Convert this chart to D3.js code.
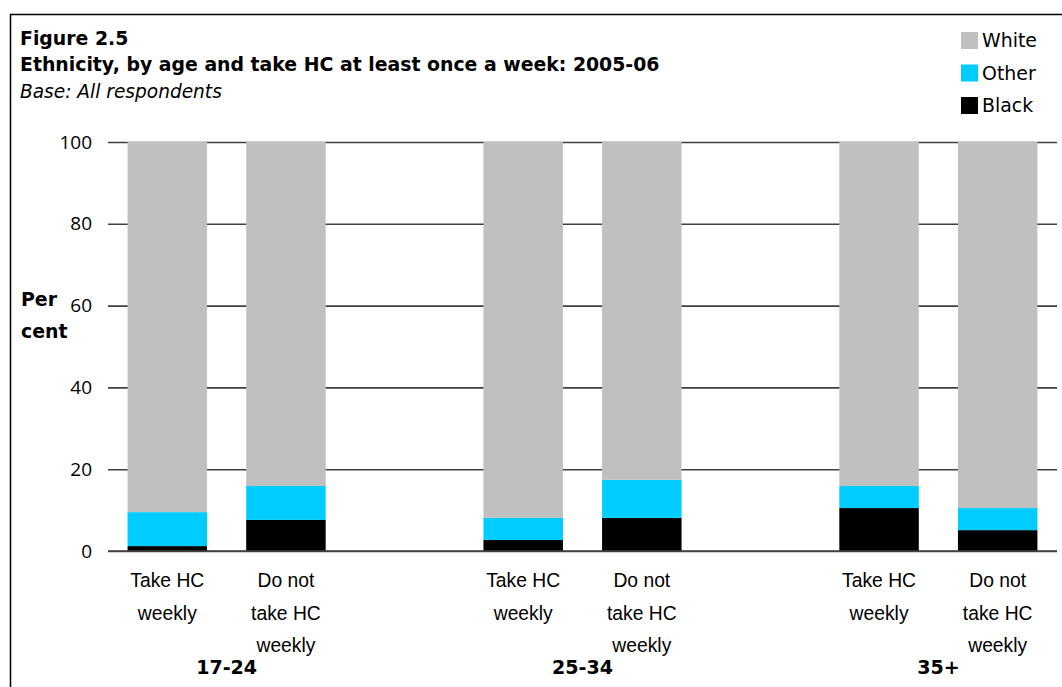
<!DOCTYPE html>
<html>
<head>
<meta charset="utf-8">
<script src="https://cdn.jsdelivr.net/npm/d3@7"></script>
<style>
  body { margin: 0; background: #fff; }
  text { font-family: "DejaVu Sans", Verdana, sans-serif; fill: #000; }
  .grid line { stroke: #404040; stroke-width: 1.6; }
  .grid text { font-family: "Open Sans", sans-serif; font-size: 19px; }
  .cat { font-family: "Liberation Sans", Arial, sans-serif; }
</style>
</head>
<body>
<div id="chart"></div>
<script>
// Data
const groups = ['17-24', '25-34', '35+'];
const types = ['Take HC weekly', 'Do not take HC weekly'];
const typeLines = [['Take HC', 'weekly'], ['Do not', 'take HC', 'weekly']];
const black = [1.2, 7.6, 2.7, 8.1, 10.5, 5.1];
const other = [8.3, 8.3, 5.4, 9.3, 5.4, 5.4];
const white = [90.5, 84.1, 91.9, 82.6, 84.1, 89.5];
const seriesNames = ['Black', 'Other', 'White'];
const seriesColors = ['#000000', '#00ccff', '#c0c0c0'];
const yTicks = [0, 20, 40, 60, 80, 100];

const rows = [];
groups.forEach((g, gi) => types.forEach((t, ti) => {
    const i = gi * 2 + ti;
    rows.push({group: g, type: t, ti: ti, Black: black[i], Other: other[i], White: white[i]});
}));

const W = 1062, H = 687;
const margin = {top: 142, right: 5, bottom: 136, left: 108};
const width = W - margin.left - margin.right;
const height = H - margin.top - margin.bottom;

// scale a text's font size so it spans the wanted width, return that size
function fitSize(sel, wanted) {
    const base = +sel.attr('font-size');
    const len = sel.node().getComputedTextLength();
    const size = base * wanted / len;
    sel.attr('font-size', size);
    return size;
}

const svg = d3.select('#chart').append('svg')
    .attr('width', W).attr('height', H);

// outer frame
svg.append('rect')
    .attr('x', 10.5).attr('y', 14.5)
    .attr('width', W + 20).attr('height', H + 20)
    .attr('fill', 'none').attr('stroke', '#000').attr('stroke-width', 1.5);

const g = svg.append('g').attr('transform', `translate(${margin.left},${margin.top})`);

// scales: each group = 2 bar slots, one empty slot between groups
const x0 = d3.scaleBand().domain(groups).range([0, width]).paddingInner(1 / 3).paddingOuter(0);
const x1 = d3.scaleBand().domain(types).range([0, x0.bandwidth()]).paddingInner(0.33).paddingOuter(0.165);
const y = d3.scaleLinear().domain([0, 100]).range([height, 0]);

// horizontal grid + y labels
const grid = g.append('g').attr('class', 'grid')
    .call(d3.axisLeft(y).tickValues(yTicks).tickSize(-width).tickPadding(16).tickFormat(d3.format('d')));
grid.select('.domain').remove();
grid.selectAll('text').attr('fill', '#000');

// stacked bars
const stack = d3.stack().keys(seriesNames)(rows);
g.selectAll('.series')
    .data(stack)
    .enter().append('g')
    .attr('class', 'series')
    .attr('fill', (d, i) => seriesColors[i])
  .selectAll('rect')
    .data(d => d)
    .enter().append('rect')
    .attr('x', d => x0(d.data.group) + x1(d.data.type))
    .attr('width', x1.bandwidth())
    .attr('y', d => y(d[1]))
    .attr('height', d => y(d[0]) - y(d[1]));

// baseline drawn above bars
g.append('line')
    .attr('x1', 0).attr('x2', width)
    .attr('y1', y(0)).attr('y2', y(0))
    .attr('stroke', '#404040').attr('stroke-width', 1.6);

// category labels
const probe = svg.append('text').attr('class', 'cat').attr('font-size', 18).text('Take HC');
const catSize = fitSize(probe, 74);
probe.remove();
rows.forEach(r => {
    const cx = x0(r.group) + x1(r.type) + x1.bandwidth() / 2;
    const t = g.append('text')
        .attr('class', 'cat')
        .attr('text-anchor', 'middle')
        .attr('font-size', catSize);
    typeLines[r.ti].forEach((line, li) => {
        t.append('tspan').attr('x', cx).attr('y', height + 36 + li * 32.5).text(line);
    });
});

// group labels
const gl = g.selectAll('.grouplabel')
    .data(groups)
    .enter().append('text')
    .attr('class', 'grouplabel')
    .attr('x', d => x0(d) + x0.bandwidth() / 2)
    .attr('y', height + 123)
    .attr('text-anchor', 'middle')
    .attr('font-size', 17)
    .attr('font-weight', 'bold')
    .text(d => d);
gl.attr('font-size', fitSize(gl.filter((d, i) => i === 0), 61));

// y axis title
const yt = svg.append('text').attr('font-size', 17).attr('font-weight', 'bold');
yt.append('tspan').attr('x', 21).attr('y', 306).text('Per');
fitSize(yt, 36);
yt.append('tspan').attr('x', 21).attr('y', 338).text('cent');

// titles
const t2 = svg.append('text').attr('x', 20).attr('y', 71)
    .attr('font-size', 17).attr('font-weight', 'bold')
    .text('Ethnicity, by age and take HC at least once a week: 2005-06');
const titleSize = fitSize(t2, 640);
svg.append('text').attr('x', 20).attr('y', 45)
    .attr('font-size', titleSize).attr('font-weight', 'bold').text('Figure 2.5');
const t3 = svg.append('text').attr('x', 20).attr('y', 98)
    .attr('font-size', 17).attr('font-style', 'italic').text('Base: All respondents');
fitSize(t3, 202);

// legend (White, Other, Black top to bottom)
const legendItems = seriesNames.slice().reverse();
const legend = svg.append('g').attr('transform', 'translate(961,32)');
let legendSize = 17;
legendItems.forEach((name, i) => {
    const li = legend.append('g').attr('transform', `translate(0,${i * 32.5})`);
    li.append('rect').attr('width', 17).attr('height', 17)
        .attr('fill', seriesColors[seriesNames.indexOf(name)]);
    const lt = li.append('text').attr('x', 21).attr('y', 15).attr('font-size', legendSize).text(name);
    if (i === 0) legendSize = fitSize(lt, 55);
});
</script>
</body>
</html>
